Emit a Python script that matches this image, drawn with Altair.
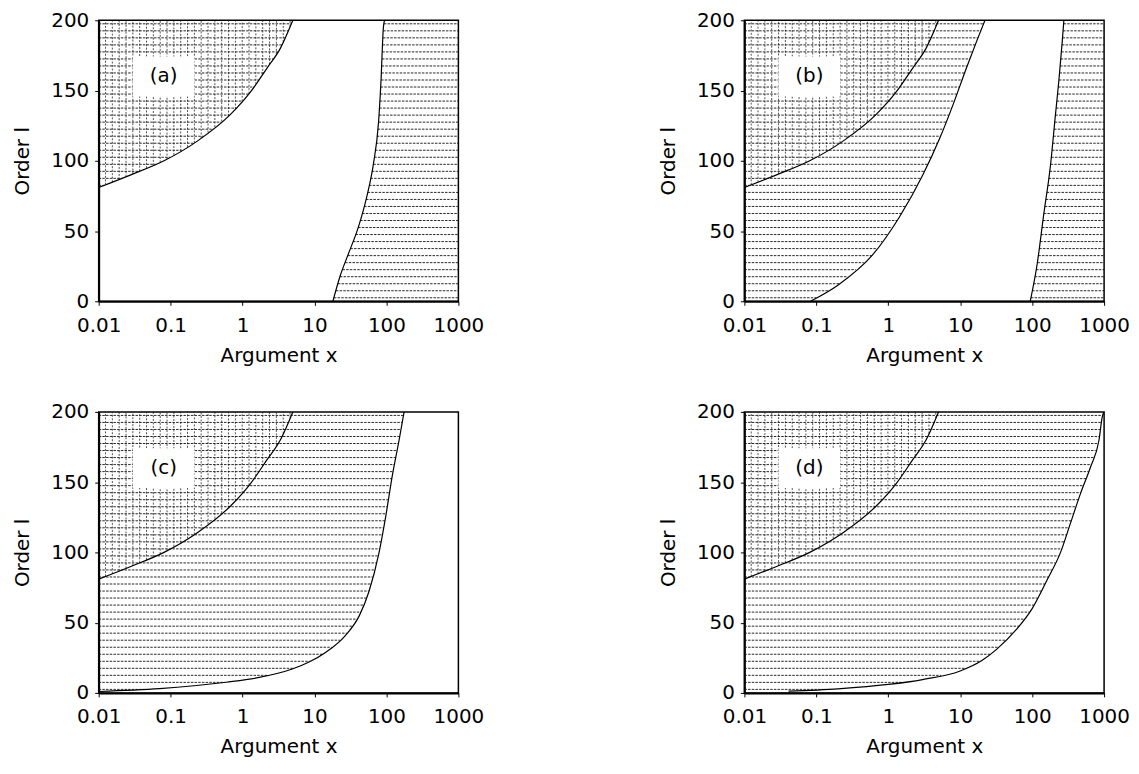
import numpy as np
import pandas as pd
import altair as alt

# ---- data ----
# boundary of the cross-hatched (upper-left) region, common to all panels
c1_x = [0.01, 0.028, 0.081, 0.235, 0.68, 1.29, 2.19, 3.35, 5.0]
c1_y = [81, 90, 100, 114, 133, 149, 166, 180, 200]

# panel (a): left edge of right-hand hatched region
a_x = [18, 22.7, 29.7, 40.8, 53, 66, 77.5, 84, 90.7, 93.8]
a_y = [0, 18, 34, 53, 74, 98, 127, 157, 195, 200]

# panel (b): right edge of left hatched region, left edge of right hatched region
b_lo_x = [0.083, 0.206, 0.605, 1.43, 3.03, 5.19, 7.96, 12.2, 16.9, 22.1]
b_lo_y = [0, 12, 33, 60, 90, 116, 140, 166, 185, 200]
b_hi_x = [94, 117, 145, 180, 211, 235, 262, 276]
b_hi_y = [0, 26, 62, 97, 133, 157, 185, 200]

# panel (c)
c_x = [0.01, 0.07, 0.59, 1.7, 4.9, 8.4, 14.4, 27, 42, 57, 79, 98, 121, 150, 176]
c_y = [1, 3, 7.6, 11, 17, 22, 29, 41, 55, 72, 100, 126, 155, 180, 200]

# panel (d)
d_x = [0.041, 0.2, 1.0, 3.0, 10, 20, 32, 60, 100, 160, 248, 342, 471, 650, 850, 948, 1000]
d_y = [1.2, 2.9, 6, 9.5, 15.6, 23, 31, 45, 60, 80, 100, 121, 142, 161, 180, 197, 200]

panel_labels = ["(a)", "(b)", "(c)", "(d)"]
label_x = 0.08
label_y = 160
x_ticks = [0.01, 0.1, 1, 10, 100, 1000]
y_ticks = [0, 50, 100, 150, 200]
X_MIN, X_MAX, Y_MAX = 0.01, 1000, 200

curves = {
    "c1": (c1_x, c1_y), "a": (a_x, a_y), "b_lo": (b_lo_x, b_lo_y),
    "b_hi": (b_hi_x, b_hi_y), "c": (c_x, c_y), "d": (d_x, d_y),
}

# which curves bound the horizontally hatched bands in each panel
# (left curve or None = x min, right curve or None = x max, lowest y)
bands = {
    0: [(None, "c1", 80), ("a", None, 0)],
    1: [(None, "b_lo", 0), ("b_hi", None, 0)],
    2: [(None, "c", 0)],
    3: [(None, "d", 0)],
}
panel_curves = {0: ["c1", "a"], 1: ["c1", "b_lo", "b_hi"], 2: ["c1", "c"], 3: ["c1", "d"]}


def inv(name, y):
    cx, cy = curves[name]
    return float(10 ** np.interp(y, cy, np.log10(cx)))


hatch_levels = np.arange(2.5, Y_MAX, 5.0)


def h_hatch(p):
    rows = []
    for left, right, ymin in bands[p]:
        for y in hatch_levels:
            if y <= ymin:
                continue
            x0 = X_MIN if left is None else inv(left, y)
            x1 = X_MAX if right is None else min(inv(right, y), X_MAX)
            if x1 > x0:
                rows.append({"x": x0, "x2": x1, "y": y})
    return pd.DataFrame(rows)


def v_hatch():
    lx = np.log10(c1_x)
    rows = []
    for lg in np.arange(-1.905, lx[-1], 0.095):
        y0 = float(np.interp(lg, lx, c1_y))
        rows.append({"x": float(10 ** lg), "y": y0, "y2": Y_MAX})
    return pd.DataFrame(rows)


def curve_df(p):
    rows = []
    for name in panel_curves[p]:
        cx, cy = curves[name]
        for xv, yv in zip(cx, cy):
            rows.append({"x": xv, "y": yv, "curve": name})
    return pd.DataFrame(rows)


xs = alt.X("x:Q", scale=alt.Scale(type="log", domain=[X_MIN, X_MAX], nice=False),
           axis=alt.Axis(values=x_ticks, format="~g", title="Argument x",
                         labelFlush=False, labelOverlap=False,
                         labelPadding=10, titlePadding=10))
ys = alt.Y("y:Q", scale=alt.Scale(domain=[0, Y_MAX], nice=False, zero=False),
           axis=alt.Axis(values=y_ticks, title="Order l", labelFlush=False,
                         labelPadding=6, titlePadding=18))

HATCH = "#111111"


def panel(p):
    hh = alt.Chart(h_hatch(p)).mark_rule(
        color=HATCH, strokeWidth=1.0, strokeDash=[2.5, 1.2], opacity=0.9
    ).encode(x=xs, x2="x2:Q", y=ys)
    vv = alt.Chart(v_hatch()).mark_rule(
        color=HATCH, strokeWidth=0.9, strokeDash=[2, 1.5], opacity=0.8
    ).encode(x=xs, y=ys, y2="y2:Q")
    lines = alt.Chart(curve_df(p)).mark_line(
        color="black", strokeWidth=1.2, interpolate="monotone"
    ).encode(x=xs, y=ys, detail="curve:N")
    lab = pd.DataFrame({"x": [label_x], "y": [label_y], "t": [panel_labels[p]]})
    box = alt.Chart(lab).mark_point(
        shape="M-1.55,-1L1.55,-1L1.55,1L-1.55,1Z", size=1600, filled=True,
        fill="white", stroke=None, opacity=1
    ).encode(x=xs, y=ys)
    txt = alt.Chart(lab).mark_text(font="DejaVu Sans", fontSize=20, color="black").encode(
        x=xs, y=ys, text="t:N")
    return alt.layer(hh, vv, box, lines, txt).properties(width=361, height=282)


chart = alt.vconcat(
    alt.hconcat(panel(0), panel(1), spacing=173),
    alt.hconcat(panel(2), panel(3), spacing=173),
    spacing=35,
).properties(
    padding={"left": 4, "top": 0, "right": 0, "bottom": 0}
).configure_view(
    stroke="black", strokeWidth=1.5
).configure_axis(
    grid=False, domainColor="black", domainWidth=2, tickColor="black", tickSize=4,
    labelFont="DejaVu Sans", labelFontSize=20, labelColor="black",
    titleFont="DejaVu Sans", titleFontSize=20, titleFontWeight="normal", titleColor="black",
)

chart.save("out.html", embed_options={"renderer": "svg", "actions": False})
